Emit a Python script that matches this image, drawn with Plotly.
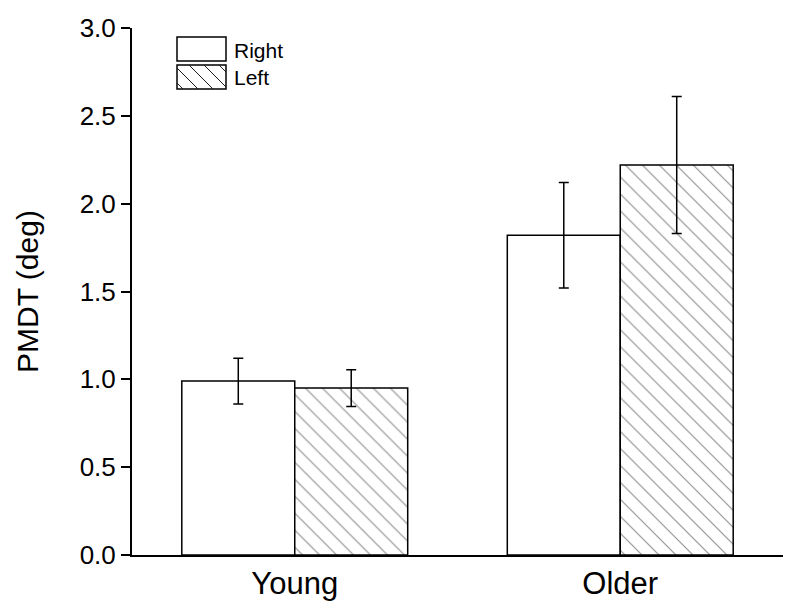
import plotly.graph_objects as go

groups = ["Young", "Older"]
right_vals = [0.99, 1.82]
right_err = [0.13, 0.30]
left_vals = [0.95, 2.22]
left_err = [0.105, 0.39]
series_names = ["Right", "Left"]
ytick_vals = [0.0, 0.5, 1.0, 1.5, 2.0, 2.5, 3.0]

OFF = 8  # page body margin
W, H = 799, 614
# plot area in page pixels: x 132..783, y 28..555
L, T = 132 - OFF, 28 - OFF
R = W - (783 - OFF)
B = H - (555 - OFF)
PW, PH = W - L - R, H - T - B

def px(x):
    return (x - OFF - L) / PW

def py(y):
    return 1 - (y - OFF - T) / PH

FONT = "Liberation Sans, Arial, sans-serif"
HATCH = "#1a1a1a"

fig = go.Figure()
fig.add_trace(go.Bar(
    x=groups, y=right_vals, name=series_names[0],
    marker=dict(color="white", line=dict(color="black", width=1.5)),
    error_y=dict(type="data", array=right_err, color="black", thickness=1.5, width=5),
    showlegend=False,
))
fig.add_trace(go.Bar(
    x=groups, y=left_vals, name=series_names[1],
    marker=dict(color="white", line=dict(color="black", width=1.5),
                pattern=dict(shape="\\", fgcolor=HATCH, bgcolor="white", size=12, solidity=0.09)),
    error_y=dict(type="data", array=left_err, color="black", thickness=1.5, width=5),
    showlegend=False,
))

# manual legend
shapes = []
annotations = []
bx0, bx1 = 177, 226
boxes = [(37, 61), (65, 89)]
for i, (y0, y1) in enumerate(boxes):
    shapes.append(dict(type="rect", xref="paper", yref="paper",
                       x0=px(bx0), x1=px(bx1), y0=py(y1), y1=py(y0),
                       line=dict(color="black", width=1.5), fillcolor="white", layer="above"))
    annotations.append(dict(text=series_names[i], xref="paper", yref="paper",
                            x=px(232), y=py((y0 + y1) / 2 + 1), xanchor="left", yanchor="middle",
                            showarrow=False, font=dict(family=FONT, size=21, color="black")))
# hatch lines for "Left" legend box (direction "\")
y0, y1 = boxes[1]
hgt = y1 - y0
step = 15
c = bx0 - hgt + 6
while c < bx1:
    xs, ys = c, y0
    xe, ye = c + hgt, y1
    if xs < bx0:
        ys = y0 + (bx0 - xs); xs = bx0
    if xe > bx1:
        ye = y1 - (xe - bx1); xe = bx1
    if ye > ys:
        shapes.append(dict(type="path", xref="paper", yref="paper",
                           path=f"M{px(xs)},{py(ys)} L{px(xe)},{py(ye)}",
                           line=dict(color=HATCH, width=1), layer="above"))
    c += step

fig.update_layout(
    width=W, height=H,
    margin=dict(l=L, r=R, t=T, b=B, pad=0),
    plot_bgcolor="white", paper_bgcolor="white",
    barmode="group", bargap=0.306, bargroupgap=0,
    font=dict(family=FONT, color="black"),
    shapes=shapes, annotations=annotations,
    xaxis=dict(showline=True, linecolor="black", linewidth=2, ticks="", showgrid=False,
               range=[-0.5, 1.5], tickfont=dict(size=31, family=FONT, color="black"),
               zeroline=False, automargin=False),
    yaxis=dict(range=[0, 3], tickvals=ytick_vals, tickformat=".1f", showline=True,
               linecolor="black", linewidth=2, ticks="outside", ticklen=9, tickwidth=1.5,
               tickcolor="black", showgrid=False, zeroline=False, automargin=False,
               tickfont=dict(size=26, family=FONT, color="black"),
               title=dict(text="PMDT (deg)", font=dict(size=30, family=FONT, color="black"),
                          standoff=32)),
)

fig.write_html("out.html")
